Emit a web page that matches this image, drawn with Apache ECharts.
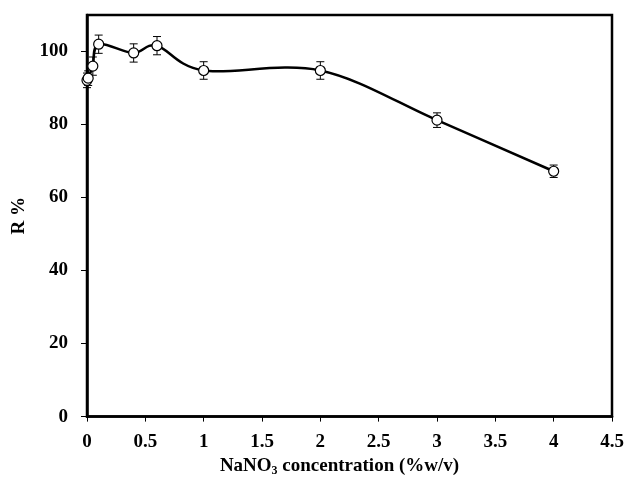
<!DOCTYPE html>
<html><head><meta charset="utf-8">
<script src="https://cdn.jsdelivr.net/npm/echarts@6/dist/echarts.min.js"></script>
<style>html,body{margin:0;padding:0;background:#fff}#c{width:632px;height:482px}</style>
</head><body><div id="c"></div>
<script>
const xValues = [0, 0.01, 0.05, 0.1, 0.4, 0.6, 1, 2, 3, 4];
const rValues = [92.1, 92.7, 96.0, 102.0, 99.6, 101.6, 94.8, 94.8, 81.2, 67.2];
const rErrors = [2.0, 2.0, 2.5, 2.5, 2.5, 2.5, 2.4, 2.4, 2.0, 1.7];
const yTicks = [0, 20, 40, 60, 80, 100];

const font = '"Liberation Serif", "Times New Roman", serif';
const lineData = xValues.map((x, i) => [x, rValues[i]]);
const errData = xValues.map((x, i) => [x, rValues[i], rErrors[i]]);

const chart = echarts.init(document.getElementById('c'));
chart.setOption({
  animation: false,
  backgroundColor: '#fff',
  grid: { left: 87, right: 20, top: 15, bottom: 64, show: true, borderColor: '#000', borderWidth: 2.5, backgroundColor: 'transparent' },
  xAxis: {
    type: 'value', min: 0, max: 4.5, interval: 0.5,
    name: 'NaNO{sub|3} concentration (%w/v)',
    nameLocation: 'middle', nameGap: 35,
    nameTextStyle: {
      fontFamily: font, fontWeight: 'bold', fontSize: 19, color: '#000', padding: [0, 20, 0, 0],
      rich: { sub: { fontFamily: font, fontWeight: 'bold', fontSize: 12, color: '#000', verticalAlign: 'bottom', padding: [10, 0, 0, 0] } }
    },
    axisLine: { show: true, lineStyle: { color: '#000', width: 2.5 } },
    axisTick: { show: true, inside: false, length: 5, lineStyle: { color: '#000', width: 1 } },
    axisLabel: { fontFamily: font, fontWeight: 'bold', fontSize: 19, color: '#000', margin: 16 },
    splitLine: { show: false }
  },
  yAxis: {
    type: 'value', min: 0, max: 110,
    name: 'R %', nameLocation: 'middle', nameGap: 55, nameRotate: 90,
    nameTextStyle: { fontFamily: font, fontWeight: 'bold', fontSize: 19, color: '#000' },
    axisLine: { show: true, lineStyle: { color: '#000', width: 2.5 } },
    axisTick: { show: true, inside: false, length: 6, customValues: yTicks, lineStyle: { color: '#000', width: 1 } },
    axisLabel: { fontFamily: font, fontWeight: 'bold', fontSize: 19, color: '#000', margin: 19, customValues: yTicks },
    splitLine: { show: false }
  },
  series: [
    {
      type: 'custom', z: 1,
      data: errData,
      renderItem: function (params, api) {
        const x = api.value(0), y = api.value(1), e = api.value(2);
        const top = api.coord([x, y + e]);
        const bot = api.coord([x, y - e]);
        const w = 4;
        const style = { stroke: '#000', lineWidth: 1 };
        return {
          type: 'group',
          children: [
            { type: 'line', shape: { x1: top[0], y1: top[1], x2: bot[0], y2: bot[1] }, style: style },
            { type: 'line', shape: { x1: top[0] - w, y1: top[1], x2: top[0] + w, y2: top[1] }, style: style },
            { type: 'line', shape: { x1: bot[0] - w, y1: bot[1], x2: bot[0] + w, y2: bot[1] }, style: style }
          ]
        };
      }
    },
    {
      // smoothed (Excel-style Catmull-Rom) curve through all points
      type: 'custom', z: 2,
      data: [[xValues[0], rValues[0]]],
      renderItem: function (params, api) {
        const P = lineData.map(d => api.coord(d));
        let d = 'M' + P[0][0] + ' ' + P[0][1];
        const t = 1 / 6;
        for (let i = 0; i < P.length - 1; i++) {
          const p0 = P[Math.max(i - 1, 0)], p1 = P[i], p2 = P[i + 1], p3 = P[Math.min(i + 2, P.length - 1)];
          const c1 = [p1[0] + (p2[0] - p0[0]) * t, p1[1] + (p2[1] - p0[1]) * t];
          const c2 = [p2[0] - (p3[0] - p1[0]) * t, p2[1] - (p3[1] - p1[1]) * t];
          d += ' C' + c1[0] + ' ' + c1[1] + ' ' + c2[0] + ' ' + c2[1] + ' ' + p2[0] + ' ' + p2[1];
        }
        return { type: 'path', shape: { pathData: d }, style: { fill: 'none', stroke: '#000', lineWidth: 2.5 } };
      }
    },
    {
      type: 'scatter', z: 3,
      data: lineData,
      symbol: 'circle', symbolSize: 10,
      itemStyle: { color: '#fff', borderColor: '#000', borderWidth: 1.2, opacity: 1 }
    }
  ]
});
</script></body></html>
